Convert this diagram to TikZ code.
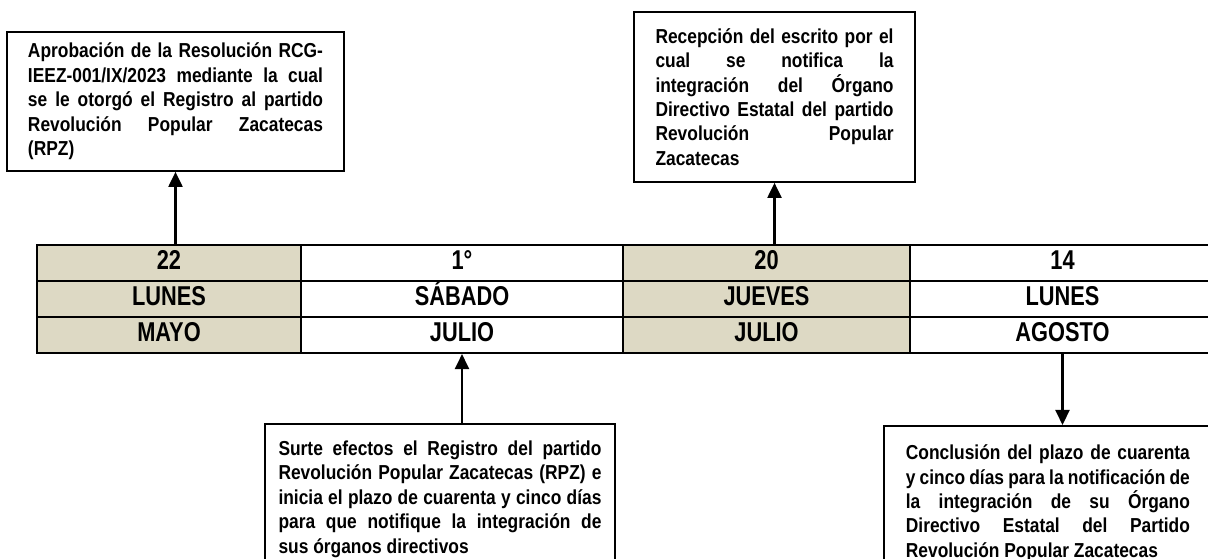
\documentclass[tikz,border=0pt]{standalone}
\usepackage{fontspec}
\setmainfont{Liberation Sans}[FakeStretch=0.86]
\newfontfamily\cellfont{Liberation Sans}[FakeStretch=0.80]
\usetikzlibrary{arrows.meta}
\definecolor{cellbg}{RGB}{221,217,196}

\tikzset{
  cell/.style={draw,line width=1.2pt,minimum width=#1,minimum height=0.72cm,inner sep=0pt,
    text height=0.72em,text depth=0pt,font=\cellfont\fontsize{15.5}{17}\selectfont\bfseries},
  note/.style={draw,line width=1pt,align=justify,
    font=\fontsize{11.5}{13.9}\selectfont\bfseries\sloppy},
  link/.style={line width=1.2pt,-{Triangle[length=0.3cm,width=0.28cm]}}
}

\begin{document}
\begin{tikzpicture}
    \fill[white,use as bounding box] (0,0) rectangle (24.16,11.18);

    % table of dates
    \foreach \cx/\cw/\cfill/\num/\dia/\mes [count=\i] in {
        3.38/5.28/cellbg/22/LUNES/MAYO,
        9.24/6.44/white/1°/SÁBADO/JULIO,
        15.33/5.74/cellbg/20/JUEVES/JULIO,
        21.25/6.10/white/14/LUNES/AGOSTO}{
        \node[cell=\cw cm,fill=\cfill] (d\i) at (\cx,5.92) {\num};
        \node[cell=\cw cm,fill=\cfill] (w\i) at (\cx,5.20) {\dia};
        \node[cell=\cw cm,fill=\cfill] (m\i) at (\cx,4.48) {\mes};
    }

    % boxes above the table
    \node[note,text width=5.90cm,inner xsep=0.42cm,minimum height=2.78cm] (aprobacion) at (3.51,9.15)
        {Aprobación de la Resolución RCG-\linebreak IEEZ-001/IX/2023 mediante la cual\linebreak
         se le otorgó el Registro al partido\linebreak Revolución Popular Zacatecas\linebreak (RPZ)};
    \node[note,text width=4.76cm,inner xsep=0.43cm,minimum height=3.40cm] (recepcion) at (15.49,9.24)
        {Recepción del escrito por el\linebreak cual se notifica la\linebreak
         integración del Órgano\linebreak Directivo Estatal del partido\linebreak
         Revolución Popular\linebreak Zacatecas};

    % boxes below the table
    \node[note,text width=6.46cm,inner xsep=0.27cm,inner ysep=0.34cm,anchor=north] (surte) at (8.80,2.72)
        {Surte efectos el Registro del partido\linebreak Revolución Popular Zacatecas (RPZ) e\linebreak
         inicia el plazo de cuarenta y cinco días\linebreak para que notifique la integración de\linebreak
         sus órganos directivos};
    \node[note,text width=5.68cm,inner xsep=0.44cm,inner ysep=0.38cm,anchor=north west] (conclusion) at (17.66,2.68)
        {Conclusión del plazo de cuarenta\linebreak y cinco días para la notificación de\linebreak
         la integración de su Órgano\linebreak Directivo Estatal del Partido\linebreak
         Revolución Popular Zacatecas};

    \draw[link] (aprobacion.south |- d1.north) -- (aprobacion.south);
    \draw[link] (recepcion.south |- d3.north) -- (recepcion.south);
    \draw[link] (surte.north -| m2.south) -- (m2.south);
    \draw[link] (m4.south) -- (m4.south |- conclusion.north);
\end{tikzpicture}
\end{document}
